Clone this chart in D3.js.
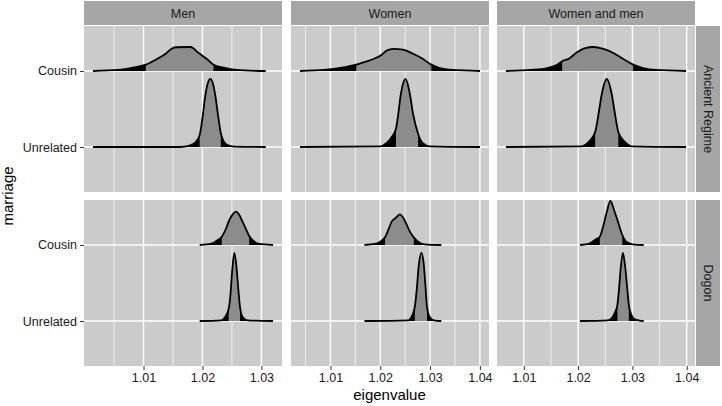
<!DOCTYPE html>
<html><head><meta charset="utf-8">
<script src="https://cdn.jsdelivr.net/npm/d3@7"></script>
<style>
body{margin:0;background:#fff}
svg{display:block;font-family:"Liberation Sans",Arial,Helvetica,sans-serif}
</style>
</head><body>
<svg id="chart" width="722" height="406"></svg>
<script>
// ---- categories ----
const sexes = ["Men", "Women", "Women and men"];
const populations = ["Ancient Regime", "Dogon"];
const marriages = ["Unrelated", "Cousin"]; // bottom -> top
// ---- tick labels ----
const xTicksMen = [1.01, 1.02, 1.03];
const xTicksWomen = [1.01, 1.02, 1.03, 1.04];
const xTicksBoth = [1.01, 1.02, 1.03, 1.04];

// ---- ridges: eigenvalue positions, relative density (panel max = 1), quantile cuts ----
const menAncientCousinX = [1.00143,1.00563,1.00844,1.01040,1.01208,1.01376,1.01471,1.01545,1.01797,1.01936,1.02076,1.02188,1.02356,1.02580,1.03074];
const menAncientCousinD = [0,.015,.054,.093,.166,.254,.324,.349,.353,.265,.176,.093,.049,.015,0];
const menAncientCousinQ = [1.01040, 1.02188];
const menAncientUnrelX = [1.00143,1.01617,1.01785,1.01886,1.01953,1.02003,1.02045,1.02087,1.02133,1.02180,1.02222,1.02264,1.02311,1.02356,1.02424,1.02541,1.03074];
const menAncientUnrelD = [0,0,.022,.074,.176,.441,.735,.926,1,.926,.735,.471,.206,.088,.029,.006,0];
const menAncientUnrelQ = [1.01953, 1.02311];
const menDogonCousinX = [1.01953,1.02150,1.02261,1.02328,1.02402,1.02457,1.02513,1.02570,1.02625,1.02681,1.02738,1.02793,1.02866,1.02961,1.03197];
const menDogonCousinD = [0,.019,.074,.122,.246,.368,.451,.49,.441,.343,.235,.132,.059,.015,0];
const menDogonCousinQ = [1.02328, 1.02793];
const menDogonUnrelX = [1.01953,1.02318,1.02385,1.02445,1.02474,1.02503,1.02541,1.02575,1.02603,1.02637,1.02681,1.02765,1.03197];
const menDogonUnrelD = [0,.01,.059,.181,.378,.721,1,.819,.525,.206,.059,.01,0];
const menDogonUnrelQ = [1.02445, 1.02637];

const womenAncientCousinX = [1.00389,1.00867,1.01265,1.01518,1.01663,1.01863,1.02030,1.02130,1.02261,1.02460,1.02659,1.02827,1.03026,1.03191,1.03456,1.04002];
const womenAncientCousinD = [0,.015,.054,.093,.128,.176,.24,.299,.324,.313,.254,.191,.093,.044,.015,0];
const womenAncientCousinQ = [1.01518, 1.03026];
const womenAncientUnrelX = [1.00389,1.01996,1.02129,1.02229,1.02315,1.02361,1.02414,1.02508,1.02594,1.02659,1.02759,1.02847,1.02992,1.04002];
const womenAncientUnrelD = [0,.01,.059,.147,.269,.485,.779,1,.779,.485,.196,.059,.01,0];
const womenAncientUnrelQ = [1.02315, 1.02759];
const womenDogonCousinX = [1.01683,1.01896,1.01996,1.02096,1.02161,1.02229,1.02315,1.02394,1.02460,1.02528,1.02594,1.02673,1.02759,1.02892,1.03225];
const womenDogonCousinD = [0,.015,.049,.113,.221,.343,.401,.451,.401,.304,.196,.113,.049,.01,0];
const womenDogonCousinQ = [1.02096, 1.02673];
const womenDogonUnrelX = [1.01683,1.02560,1.02627,1.02693,1.02733,1.02773,1.02827,1.02872,1.02906,1.02938,1.02992,1.03078,1.03225];
const womenDogonUnrelD = [0,.01,.059,.206,.471,.819,1,.843,.525,.206,.059,.01,0];
const womenDogonUnrelQ = [1.02693, 1.02938];

const bothAncientCousinX = [1.00672,1.01128,1.01433,1.01615,1.01706,1.01829,1.01980,1.02131,1.02285,1.02467,1.02650,1.02832,1.03015,1.03197,1.03440,1.03987];
const bothAncientCousinD = [0,.015,.044,.093,.143,.181,.275,.338,.353,.324,.265,.176,.093,.044,.015,0];
const bothAncientCousinQ = [1.01706, 1.03015];
const bothAncientUnrelX = [1.00672,1.02071,1.02193,1.02314,1.02376,1.02436,1.02527,1.02619,1.02679,1.02741,1.02861,1.02984,1.03987];
const bothAncientUnrelD = [0,.01,.074,.221,.485,.779,1,.779,.485,.221,.074,.01,0];
const bothAncientUnrelQ = [1.02314, 1.02741];
const bothDogonCousinX = [1.02035,1.02217,1.02327,1.02400,1.02460,1.02522,1.02595,1.02661,1.02734,1.02814,1.02887,1.03007,1.03208];
const bothDogonCousinD = [0,.025,.084,.122,.269,.466,.647,.515,.343,.147,.049,.01,0];
const bothDogonCousinQ = [1.02400, 1.02814];
const bothDogonUnrelX = [1.02035,1.02546,1.02619,1.02682,1.02723,1.02755,1.02783,1.02825,1.02865,1.02901,1.02934,1.02974,1.03038,1.03130,1.03208];
const bothDogonUnrelD = [0,.01,.044,.132,.235,.485,.765,1,.809,.515,.235,.103,.029,.006,0];
const bothDogonUnrelQ = [1.02723, 1.02934];

// ---- assemble table ----
function ridge(sex, pop, marriage, xs, ds, q) {
  return {sex, pop, marriage, q, pts: xs.map((x, i) => [x, ds[i]])};
}
const ridges = [
  ridge("Men","Ancient Regime","Cousin",menAncientCousinX,menAncientCousinD,menAncientCousinQ),
  ridge("Men","Ancient Regime","Unrelated",menAncientUnrelX,menAncientUnrelD,menAncientUnrelQ),
  ridge("Men","Dogon","Cousin",menDogonCousinX,menDogonCousinD,menDogonCousinQ),
  ridge("Men","Dogon","Unrelated",menDogonUnrelX,menDogonUnrelD,menDogonUnrelQ),
  ridge("Women","Ancient Regime","Cousin",womenAncientCousinX,womenAncientCousinD,womenAncientCousinQ),
  ridge("Women","Ancient Regime","Unrelated",womenAncientUnrelX,womenAncientUnrelD,womenAncientUnrelQ),
  ridge("Women","Dogon","Cousin",womenDogonCousinX,womenDogonCousinD,womenDogonCousinQ),
  ridge("Women","Dogon","Unrelated",womenDogonUnrelX,womenDogonUnrelD,womenDogonUnrelQ),
  ridge("Women and men","Ancient Regime","Cousin",bothAncientCousinX,bothAncientCousinD,bothAncientCousinQ),
  ridge("Women and men","Ancient Regime","Unrelated",bothAncientUnrelX,bothAncientUnrelD,bothAncientUnrelQ),
  ridge("Women and men","Dogon","Cousin",bothDogonCousinX,bothDogonCousinD,bothDogonCousinQ),
  ridge("Women and men","Dogon","Unrelated",bothDogonUnrelX,bothDogonUnrelD,bothDogonUnrelQ)
];
const colTicks = {"Men": xTicksMen, "Women": xTicksWomen, "Women and men": xTicksBoth};

// ---- layout ----
const colLeft = [84, 291, 497];
const panelW = 198;
const rowTop = [26, 200];
const panelH = 166;
const stripH = 24;
const rightStripX = 696, rightStripW = 24;

const PANEL_BG = "#cbcbcb", STRIP_BG = "#a6a6a6", MID_FILL = "#8c8c8c";
const TEXT = "#1a1a1a";

const svg = d3.select("#chart");

const yScale = d3.scalePoint().domain(marriages).range([panelH, 0]).padding(0.592);
const hScale = d3.scaleLinear().domain([0, 1]).range([0, 0.895 * yScale.step()]);

// x scales per column (ggplot-like 5% expansion of data range)
const xScales = {};
sexes.forEach((s, ci) => {
  const all = ridges.filter(r => r.sex === s).flatMap(r => r.pts.map(p => p[0]));
  const [lo, hi] = d3.extent(all);
  const pad = (hi - lo) * 0.05;
  xScales[s] = d3.scaleLinear().domain([lo - pad, hi + pad]).range([0, panelW]);
});

let clipId = 0;
sexes.forEach((s, ci) => {
  const x = xScales[s];
  const ticks = colTicks[s];
  const step = ticks[1] - ticks[0];
  const ext = [ticks[0] - step].concat(ticks, [ticks[ticks.length - 1] + step]);
  const minor = [];
  for (let i = 0; i < ext.length - 1; i++) minor.push((ext[i] + ext[i + 1]) / 2);
  const minorIn = minor.filter(v => x(v) > 1 && x(v) < panelW - 1);

  populations.forEach((p, ri) => {
    const g = svg.append("g").attr("transform", `translate(${colLeft[ci]},${rowTop[ri]})`);
    g.append("rect").attr("width", panelW).attr("height", panelH).attr("fill", PANEL_BG);
    g.selectAll(".minor").data(minorIn).join("line")
      .attr("x1", d => x(d)).attr("x2", d => x(d)).attr("y1", 0).attr("y2", panelH)
      .attr("stroke", "#fff").attr("stroke-width", 0.7);
    g.selectAll(".major").data(ticks).join("line")
      .attr("x1", d => x(d)).attr("x2", d => x(d)).attr("y1", 0).attr("y2", panelH)
      .attr("stroke", "#fff").attr("stroke-width", 1.4);
    g.selectAll(".hgrid").data(marriages).join("line")
      .attr("x1", 0).attr("x2", panelW).attr("y1", d => yScale(d)).attr("y2", d => yScale(d))
      .attr("stroke", "#fff").attr("stroke-width", 1.4);

    // ridges, top category first so lower ones overlay
    const rs = ridges.filter(r => r.sex === s && r.pop === p)
      .sort((a, b) => marriages.indexOf(b.marriage) - marriages.indexOf(a.marriage));
    rs.forEach(r => {
      const base = yScale(r.marriage);
      const area = d3.area().x(d => x(d[0])).y0(base).y1(d => base - hScale(d[1])).curve(d3.curveMonotoneX);
      const line = d3.line().x(d => x(d[0])).y(d => base - hScale(d[1])).curve(d3.curveMonotoneX);
      const id = "clip" + (clipId++);
      const cp = g.append("clipPath").attr("id", id);
      cp.append("rect").attr("x", -5).attr("y", -200).attr("width", x(r.q[0]) + 5).attr("height", 600);
      cp.append("rect").attr("x", x(r.q[1])).attr("y", -200).attr("width", panelW - x(r.q[1]) + 5).attr("height", 600);
      g.append("path").attr("d", area(r.pts)).attr("fill", MID_FILL);
      g.append("path").attr("d", area(r.pts)).attr("fill", "#000").attr("clip-path", `url(#${id})`);
      g.append("path").attr("d", line(r.pts)).attr("fill", "none").attr("stroke", "#000")
        .attr("stroke-width", 1.8).attr("stroke-linejoin", "round");
    });

    // right strip
    if (ci === sexes.length - 1) {
      const sg = svg.append("g").attr("transform", `translate(${rightStripX},${rowTop[ri]})`);
      sg.append("rect").attr("width", rightStripW).attr("height", panelH).attr("fill", STRIP_BG);
      sg.append("text").attr("transform", `translate(${rightStripW / 2},${panelH / 2}) rotate(90)`)
        .attr("text-anchor", "middle").attr("dominant-baseline", "central")
        .attr("font-size", 12.5).attr("fill", TEXT).text(p);
    }
    // left axis
    if (ci === 0) {
      const ax = svg.append("g").attr("transform", `translate(${colLeft[0]},${rowTop[ri]})`)
        .call(d3.axisLeft(yScale).tickSize(4).tickPadding(3));
      ax.select(".domain").remove();
      ax.selectAll("line").attr("stroke", "#333");
      ax.selectAll("text").attr("font-size", 12.5).attr("fill", TEXT).attr("font-family", null);
    }
  });

  // top strip
  const st = svg.append("g").attr("transform", `translate(${colLeft[ci]},1)`);
  st.append("rect").attr("width", panelW).attr("height", stripH).attr("fill", STRIP_BG);
  st.append("text").attr("x", panelW / 2).attr("y", stripH / 2 + 0.5)
    .attr("text-anchor", "middle").attr("dominant-baseline", "central")
    .attr("font-size", 12.5).attr("fill", TEXT).text(s);

  // bottom axis
  const bx = svg.append("g").attr("transform", `translate(${colLeft[ci]},${rowTop[1] + panelH})`)
    .call(d3.axisBottom(x).tickValues(ticks).tickFormat(d3.format(".2f")).tickSize(4).tickPadding(3));
  bx.select(".domain").remove();
  bx.selectAll("line").attr("stroke", "#333");
  bx.selectAll("text").attr("font-size", 12.5).attr("fill", TEXT).attr("font-family", null);
});

// axis titles
svg.append("text").attr("x", (colLeft[0] + colLeft[2] + panelW) / 2).attr("y", 400)
  .attr("text-anchor", "middle").attr("font-size", 15).attr("fill", "#000").text("eigenvalue");
svg.append("text").attr("transform", `translate(13,${(rowTop[0] + rowTop[1] + panelH) / 2}) rotate(-90)`)
  .attr("text-anchor", "middle").attr("font-size", 15).attr("fill", "#000").text("marriage");
</script>
</body></html>
